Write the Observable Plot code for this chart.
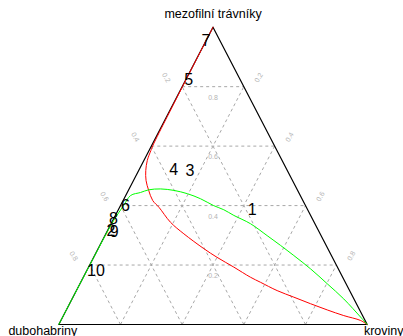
<!DOCTYPE html>
<html>
<head>
<meta charset="utf-8">
<script src="https://cdn.jsdelivr.net/npm/d3@7"></script>
<script src="https://cdn.jsdelivr.net/npm/@observablehq/plot@0.6"></script>
<style>
  body { margin: 0; background: #fff; }
</style>
</head>
<body>
<div id="chart"></div>
<script>
// Ternary composition: mezofilní trávníky (top), dubohabriny (left), kroviny (right)
const components = ["mezofilní trávníky", "dubohabriny", "kroviny"];

// Sites (labelled 1–10), proportions of each component
const siteLabels = ["1", "2", "3", "4", "5", "6", "7", "8", "9", "10"];
const siteMezofilni = [0.387, 0.316, 0.518, 0.521, 0.824, 0.400, 0.955, 0.355, 0.313, 0.181];
const siteDubohabriny = [0.179, 0.673, 0.316, 0.367, 0.167, 0.584, 0.045, 0.645, 0.664, 0.789];
const siteKroviny = [0.434, 0.011, 0.166, 0.112, 0.009, 0.016, 0.000, 0.000, 0.023, 0.030];

// Red fitted curve (mezofilní, kroviny)
const redMezofilni = [1, 0.9, 0.8, 0.7, 0.602, 0.585, 0.552, 0.518, 0.484, 0.451, 0.417, 0.394, 0.344, 0.305, 0.255, 0.226, 0.193, 0.159, 0.142, 0.114, 0.092, 0.070, 0.049, 0.030, 0.0135, 0];
const redKroviny = [0, 0.0005, 0.001, 0.002, 0.004, 0.006, 0.011, 0.023, 0.041, 0.066, 0.096, 0.128, 0.190, 0.253, 0.343, 0.400, 0.471, 0.542, 0.583, 0.651, 0.716, 0.781, 0.846, 0.909, 0.972, 1];

// Green fitted curve (mezofilní, kroviny)
const greenMezofilni = [0, 0.1, 0.2, 0.3, 0.35, 0.400, 0.434, 0.444, 0.453, 0.456, 0.451, 0.440, 0.423, 0.400, 0.386, 0.367, 0.339, 0.299, 0.266, 0.232, 0.187, 0.137, 0.086, 0.025, 0];
const greenKroviny = [0, 0, 0.0005, 0.001, 0.003, 0.010, 0.016, 0.043, 0.065, 0.102, 0.148, 0.197, 0.248, 0.302, 0.342, 0.384, 0.452, 0.526, 0.586, 0.646, 0.723, 0.802, 0.881, 0.966, 1];

// Grid levels
const gridTicks = [0.2, 0.4, 0.6, 0.8];

// Project a composition onto the plane: top component is height, kroviny pushes right
const px = (a, c) => c + a / 2;
const py = (a) => a;

const sites = siteLabels.map((label, i) => ({
  label, x: px(siteMezofilni[i], siteKroviny[i]), y: py(siteMezofilni[i])
}));
const redCurve = redMezofilni.map((a, i) => ({x: px(a, redKroviny[i]), y: py(a)}));
const greenCurve = greenMezofilni.map((a, i) => ({x: px(a, greenKroviny[i]), y: py(a)}));

const gridSegments = gridTicks.flatMap(v => [
  {x1: px(v, 0), y1: py(v), x2: px(v, 1 - v), y2: py(v)},          // constant mezofilní
  {x1: px(0, v), y1: py(0), x2: px(1 - v, v), y2: py(1 - v)},      // constant kroviny
  {x1: px(0, 1 - v), y1: py(0), x2: px(1 - v, 0), y2: py(1 - v)}   // constant dubohabriny
]);

const leftTicks = gridTicks.map(v => ({x: px(1 - v, 0), y: py(1 - v), text: String(v)}));
const rightTicks = gridTicks.map(v => ({x: px(1 - v, v), y: py(1 - v), text: String(v)}));
const centerTicks = gridTicks.map(v => ({x: px(v, (1 - v) / 2), y: py(v), text: String(v)}));

const vertices = [
  {x: px(1, 0), y: py(1)},
  {x: px(0, 0), y: py(0)},
  {x: px(0, 1), y: py(0)},
  {x: px(1, 0), y: py(1)}
];

const tickFill = "#b4b4b4";

const chart = Plot.plot({
  width: 403,
  height: 336,
  marginLeft: 58.3,
  marginRight: 36.3,
  marginTop: 26.7,
  marginBottom: 12,
  x: {domain: [0, 1], axis: null},
  y: {domain: [0, 1], axis: null},
  style: {fontFamily: "'Liberation Sans', Arial, sans-serif", background: "#fff", overflow: "visible"},
  marks: [
    Plot.link(gridSegments, {x1: "x1", y1: "y1", x2: "x2", y2: "y2", stroke: "#a8a8a8", strokeWidth: 1, strokeDasharray: "3,3"}),
    Plot.text(centerTicks, {x: "x", y: "y", text: "text", dy: 11, fontSize: 7, fill: tickFill}),
    Plot.text(leftTicks, {x: "x", y: "y", text: "text", dx: -16, dy: -9, rotate: 60, fontSize: 7, fill: tickFill}),
    Plot.text(rightTicks, {x: "x", y: "y", text: "text", dx: 15, dy: -9, rotate: -60, fontSize: 7, fill: tickFill}),
    Plot.line(vertices, {x: "x", y: "y", stroke: "#000", strokeWidth: 1.2}),
    Plot.line(redCurve, {x: "x", y: "y", stroke: "#ff0000", strokeWidth: 1, curve: "catmull-rom"}),
    Plot.line(greenCurve, {x: "x", y: "y", stroke: "#00ff00", strokeWidth: 1, curve: "catmull-rom"}),
    Plot.text(sites, {x: "x", y: "y", text: "label", fontSize: 16, fill: "#000"}),
    Plot.text([components[0]], {x: px(1, 0), y: py(1), text: d => d, dy: -13, fontSize: 12.5, fill: "#000"}),
    Plot.text([components[1]], {x: px(0, 0), y: py(0), text: d => d, dx: -16, dy: 6, fontSize: 12.5, fill: "#000"}),
    Plot.text([components[2]], {x: px(0, 1), y: py(0), text: d => d, dx: 16.5, dy: 6, fontSize: 12.5, fill: "#000"})
  ]
});
document.getElementById("chart").appendChild(chart);
</script>
</body>
</html>
